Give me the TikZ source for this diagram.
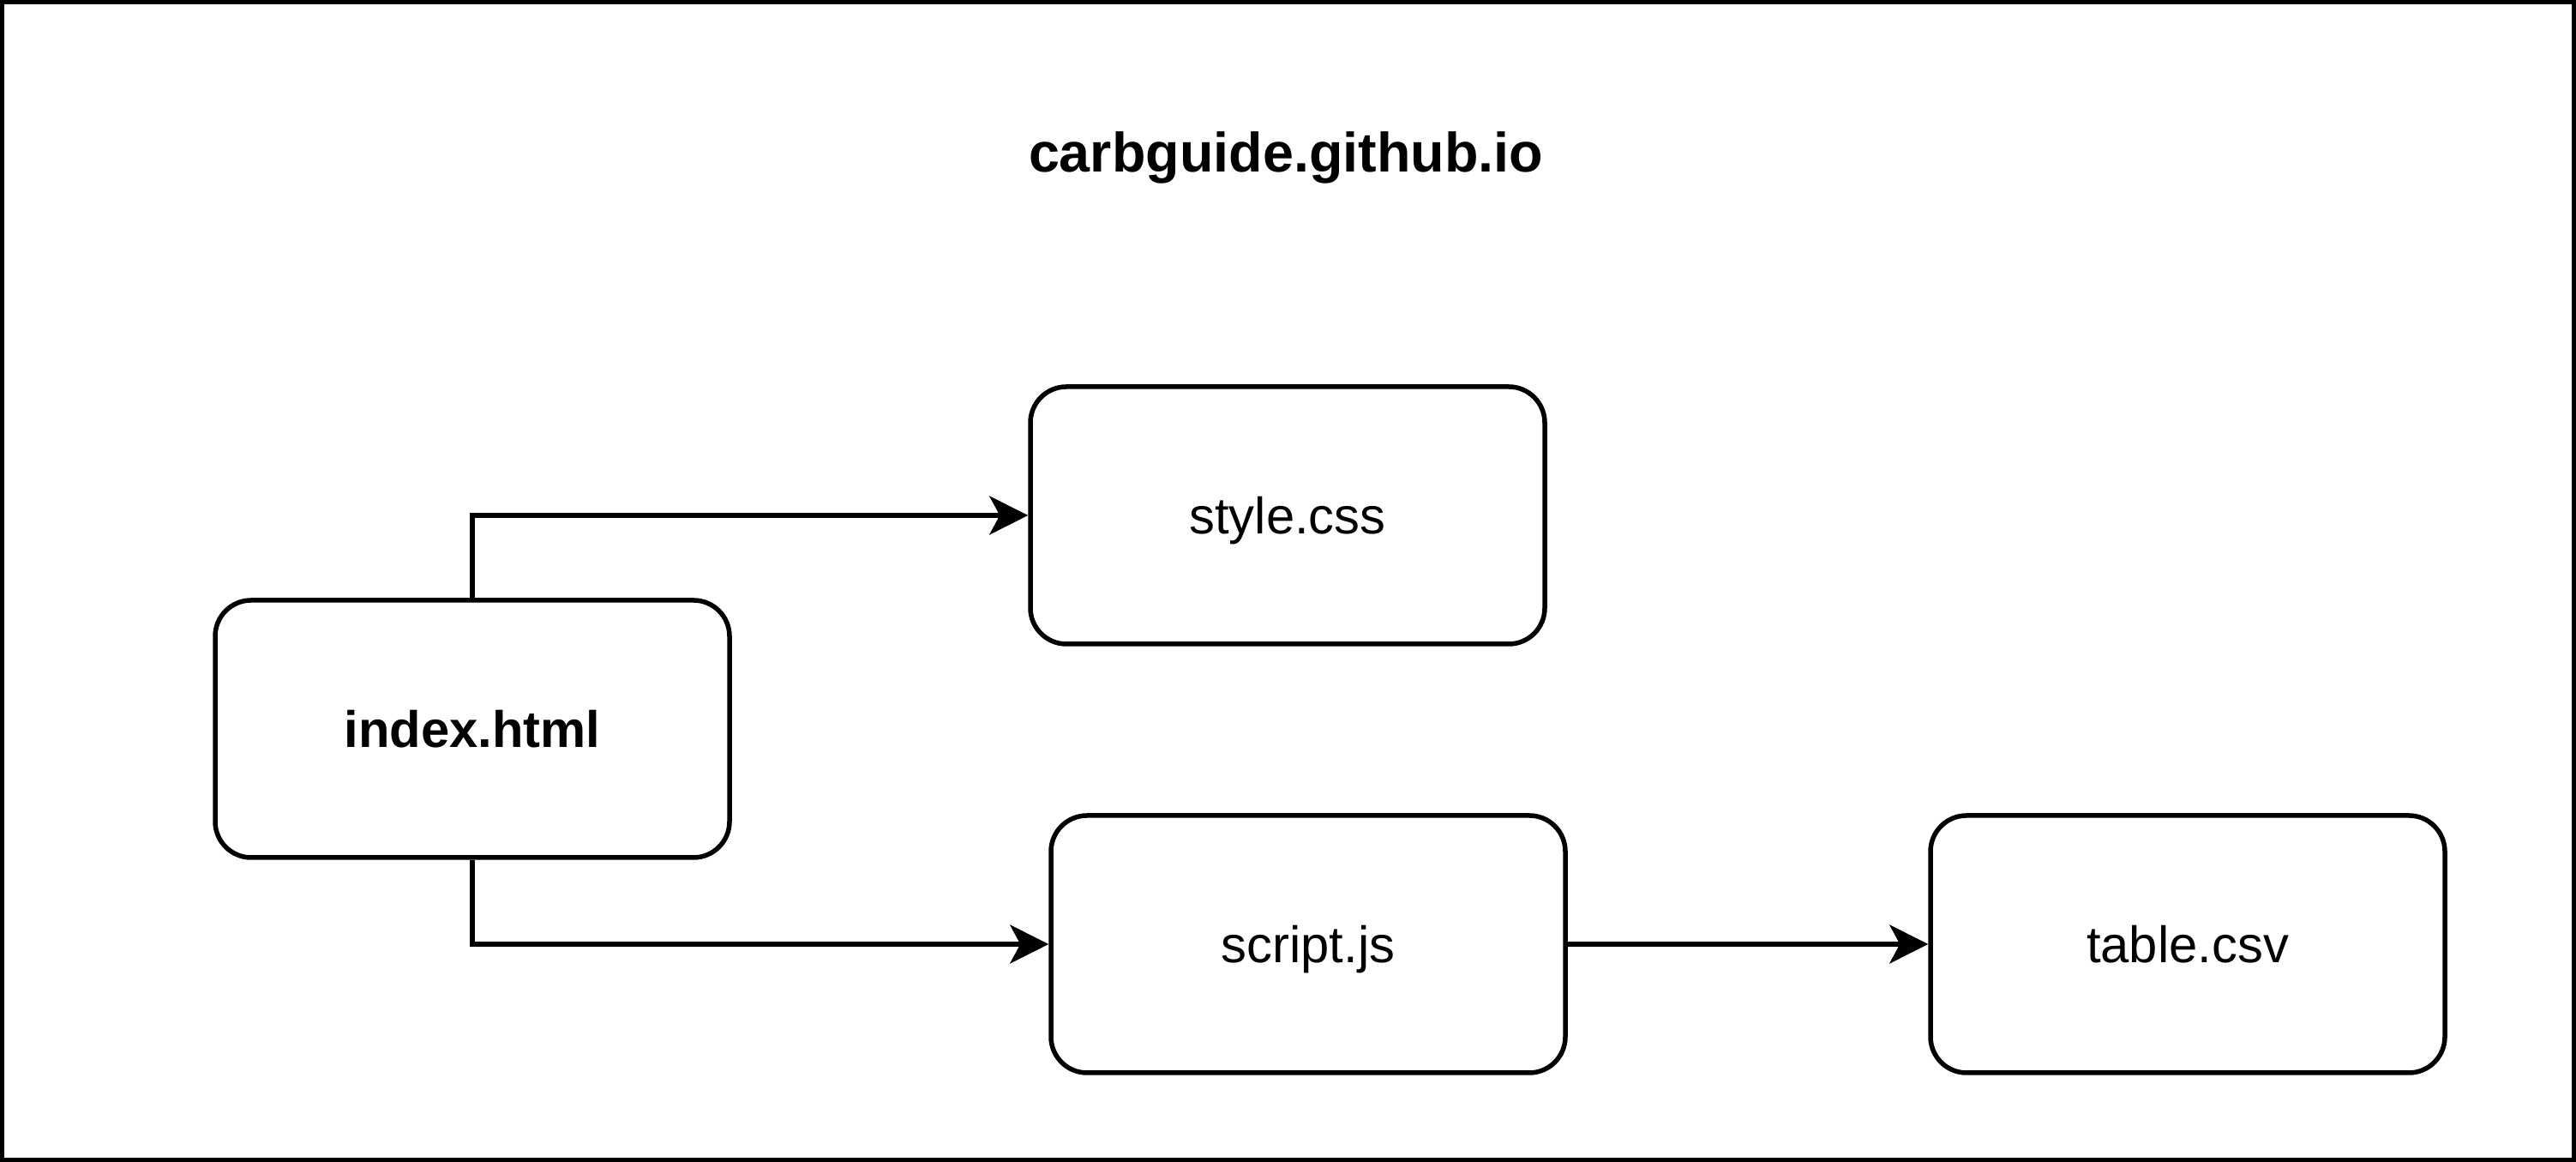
\documentclass[tikz,border=0pt]{standalone}
\usepackage{fontspec}
\setmainfont{Liberation Sans}
\usepackage{tikz}
\usetikzlibrary{positioning, arrows.meta}

\begin{document}
\begin{tikzpicture}[
    >={Stealth[length=0.45cm, width=0.45cm, inset=0.12cm]},
    line width=0.055cm,
    font=\fontsize{17}{20}\selectfont
]

    % Global style for file boxes
    \tikzset{
        filebox/.style={
            draw, rounded corners=0.42cm,
            minimum width=6cm, minimum height=3cm,
            text height=12.2pt, text depth=0pt
        },
        frame/.style={draw, line width=0.05cm}
    }

    % Outer frame
    \useasboundingbox (0, 0) rectangle (30.05, 13.55);
    \draw[frame] (0.025, 0.025) rectangle (30.025, 13.525);

    % Title
    \node[text height=13.2pt, text depth=0pt] (title) at (15.0, 11.78)
        {\fontsize{18.4}{22}\selectfont\bfseries carbguide.github.io};

    % Files
    \node[filebox] (index) at (5.51, 5.05) {\bfseries index.html};
    \node[filebox] (style) at (15.02, 7.54) {style.css};
    \node[filebox] (script) at (15.26, 2.54) {script.js};
    \node[filebox] (table) at (25.52, 2.54) {table.csv};

    % Wiring
    \draw[->] (index.north) |- (style.west);
    \draw[->] (index.south) |- (script.west);
    \draw[->] (script.east) -- (table.west);

\end{tikzpicture}
\end{document}
